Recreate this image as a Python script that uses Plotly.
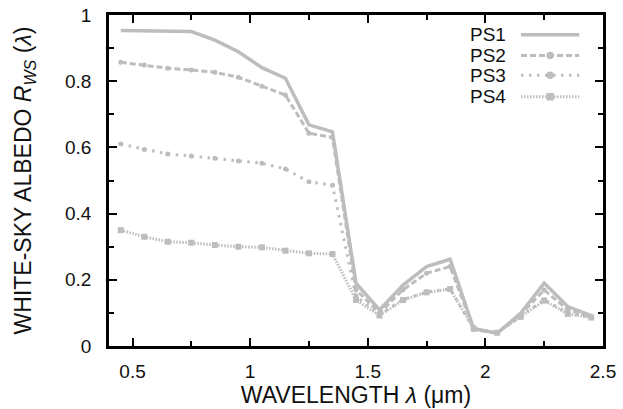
import plotly.graph_objects as go

wavelength = [0.45, 0.55, 0.65, 0.75, 0.85, 0.95, 1.05, 1.15, 1.25, 1.35, 1.45,
              1.55, 1.65, 1.75, 1.85, 1.95, 2.05, 2.15, 2.25, 2.35, 2.45]
ps1 = [0.953, 0.952, 0.951, 0.950, 0.924, 0.889, 0.841, 0.809, 0.668, 0.647, 0.190,
       0.109, 0.184, 0.240, 0.262, 0.053, 0.038, 0.099, 0.190, 0.119, 0.092]
ps2 = [0.857, 0.849, 0.839, 0.834, 0.827, 0.812, 0.785, 0.758, 0.643, 0.630, 0.170,
       0.100, 0.170, 0.220, 0.240, 0.050, 0.040, 0.095, 0.169, 0.110, 0.088]
ps3 = [0.610, 0.594, 0.580, 0.574, 0.567, 0.559, 0.552, 0.535, 0.496, 0.486, 0.150,
       0.095, 0.140, 0.163, 0.173, 0.051, 0.040, 0.090, 0.140, 0.100, 0.085]
ps4 = [0.350, 0.330, 0.315, 0.312, 0.305, 0.300, 0.298, 0.288, 0.280, 0.278, 0.139,
       0.092, 0.139, 0.162, 0.172, 0.053, 0.040, 0.088, 0.137, 0.097, 0.086]

names = ["PS1", "PS2", "PS3", "PS4"]
series = [ps1, ps2, ps3, ps4]
GRAY = "#bdbdbd"
TXT = "#111111"
dashes = ["solid", "6px,3px", "2.5px,5.5px", "1.5px,1.5px"]
widths = [3.5, 3, 3, 3]
symbols = [None, "circle", "circle", "square"]
msizes = [0, 5, 5, 6]

fig = go.Figure()
for name, ys, d, w, s, ms in zip(names, series, dashes, widths, symbols, msizes):
    fig.add_trace(go.Scatter(
        x=wavelength, y=ys, name=name,
        mode="lines" if s is None else "lines+markers",
        line=dict(color=GRAY, width=w, dash=d),
        marker=dict(symbol=s or "circle", size=ms, color=GRAY),
        showlegend=False,
    ))

# manual legend (text left, sample right), paper coordinates
leg_y = [0.940, 0.878, 0.818, 0.753]
x0, x1, xm = 0.834, 0.952, 0.893
for name, ly, d, w, s, ms in zip(names, leg_y, dashes, widths, symbols, msizes):
    fig.add_annotation(x=0.807, y=ly, xref="paper", yref="paper", text=name,
                       showarrow=False, xanchor="right", yanchor="middle",
                       font=dict(size=19, color=TXT))
    fig.add_shape(type="line", xref="paper", yref="paper", x0=x0, x1=x1, y0=ly, y1=ly,
                  line=dict(color=GRAY, width=w, dash=d))
    if s is not None:
        hx = 0.0075
        hy = hx * 493 / 331
        fig.add_shape(type="circle" if s == "circle" else "rect", xref="paper", yref="paper",
                      x0=xm - hx, x1=xm + hx, y0=ly - hy, y1=ly + hy,
                      line=dict(width=0), fillcolor=GRAY)

axis_common = dict(
    showline=True, linecolor="black", linewidth=2.5, mirror="ticks",
    ticks="inside", ticklen=8, tickwidth=1.8, tickcolor="black",
    showgrid=False, zeroline=False,
    tickfont=dict(size=19, color=TXT),
)

fig.update_xaxes(
    range=[0.4, 2.5], tick0=0.5, dtick=0.5,
    minor=dict(dtick=0.25, tick0=0.5, ticks="inside", ticklen=5, tickcolor="black", tickwidth=1.8),
    title=dict(text="WAVELENGTH <i>λ</i> (μm)", font=dict(size=23, color=TXT), standoff=5),
    ticklabelstandoff=6,
    **axis_common,
)
fig.update_yaxes(
    range=[0, 1], tick0=0, dtick=0.2,
    minor=dict(dtick=0.1, tick0=0, ticks="inside", ticklen=5, tickcolor="black", tickwidth=1.8),
    title=dict(text="WHITE-SKY ALBEDO <i>R</i><sub><i>WS</i></sub> (<i>λ</i>)",
               font=dict(size=23, color=TXT), standoff=27),
    ticklabelstandoff=11,
    **axis_common,
)

fig.update_layout(
    width=623, height=409,
    margin=dict(l=109, r=20, t=15, b=63, autoexpand=False),
    paper_bgcolor="white", plot_bgcolor="white",
    font=dict(family="Liberation Sans, Arial, sans-serif"),
)

fig.write_html("out.html")
